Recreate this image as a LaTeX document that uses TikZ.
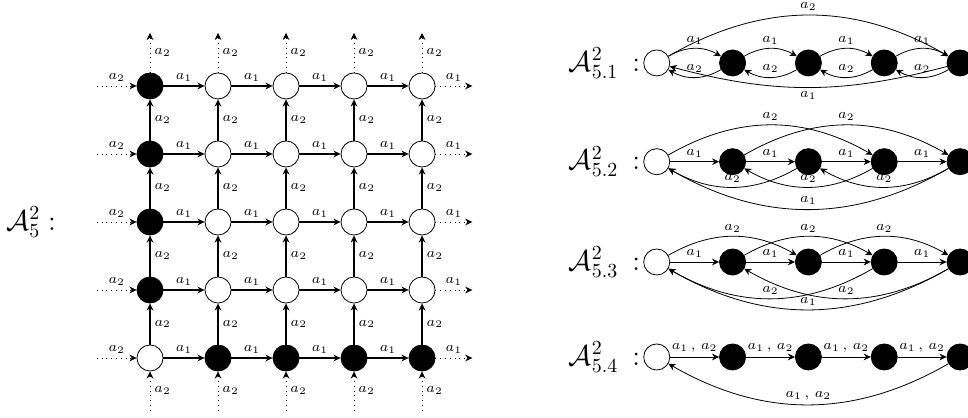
\documentclass[tikz,border=0pt]{standalone}
\usetikzlibrary{arrows.meta}
\usetikzlibrary{positioning}

\tikzset{
    wht/.style={circle,draw,minimum size=0.46cm,inner sep=0pt},
    blk/.style={wht,fill=black},
    lbl/.style={font=\scriptsize,inner sep=2pt},
}

\begin{document}
\begin{tikzpicture}[>={Stealth[length=3.6pt,width=3.4pt,inset=1.2pt]}]

    \useasboundingbox (0,0) rectangle (17.08,7.358);

    % the grid automaton
    \node (gname) at (0.55,3.44) {\Large $\mathcal{A}_5^2 :$};

    \begin{scope}[shift={(2.647,1.041)}]
    \foreach \i in {0,...,4}
        \foreach \j in {0,...,4} {
            \pgfmathtruncatemacro{\k}{(\i==0)+(\j==0)}
            \ifnum\k=1
                \node[blk] (g\i\j) at (1.2*\i,1.2*\j) {};
            \else
                \node[wht] (g\i\j) at (1.2*\i,1.2*\j) {};
            \fi
        }
    \end{scope}

    % a1 goes right, a2 goes up
    \foreach \i [evaluate=\i as \n using int(\i+1)] in {0,...,3}
        \foreach \j in {0,...,4} {
            \draw[->,semithick] (g\i\j) -- node[above,lbl] {$a_1$} (g\n\j);
            \draw[->,semithick] (g\j\i) -- node[right,lbl] {$a_2$} (g\j\n);
        }

    % dotted ends of the grid
    \foreach \j in {0,...,4} {
        \coordinate (l\j) at ([xshift=-0.7cm]g0\j.west);
        \coordinate (r\j) at ([xshift=0.65cm]g4\j.east);
        \coordinate (t\j) at ([yshift=0.7cm]g\j4.north);
        \coordinate (b\j) at ([yshift=-0.69cm]g\j0.south);
        \draw[->,dotted] (l\j) -- node[above,lbl] {$a_2$} (g0\j);
        \draw[->,dotted] (g4\j) -- node[above,lbl] {$a_1$} (r\j);
        \draw[->,dotted] (g\j4) -- node[right,lbl] {$a_2$} (t\j);
        \draw[->,dotted] (b\j) -- node[right,lbl] {$a_2$} (g\j0);
    }

    % the four quotients
    \foreach \r/\y in {1/6.247,2/4.505,3/2.735,4/1.059} {
        \node[wht] (q\r0) at (11.588,\y) {};
        \foreach \i in {1,...,4}
            \node[blk] (q\r\i) at (11.588+1.338*\i,\y) {};
        \node[left=0.05cm of q\r0,inner sep=0pt] (name\r) {\Large $\mathcal{A}^2_{5.\r}$\hspace{7pt}$:$};
    }

    % A_{5.1}
    \foreach \i [evaluate=\i as \n using int(\i+1)] in {0,...,3} {
        \draw[->] (q1\i) to[bend left] node[above,lbl] {$a_1$} (q1\n);
        \draw[->] (q1\n) to[bend left] node[above,lbl] {$a_2$} (q1\i);
    }
    \draw[->] (q10) to[bend left=30] node[above,lbl] {$a_2$} (q14);
    \draw[->] (q14) to[bend left=15] node[below,lbl] {$a_1$} (q10);

    % A_{5.2}
    \foreach \i [evaluate=\i as \n using int(\i+1)] in {0,...,3}
        \draw[->] (q2\i) -- node[above,lbl] {$a_1$} (q2\n);
    \foreach \i/\n in {0/3,1/4,2/0,3/1,4/2}
        \draw[->] (q2\i) to[bend left] node[above,lbl] {$a_2$} (q2\n);
    \draw[->] (q24) to[bend left] node[above,lbl] {$a_1$} (q20);

    % A_{5.3}
    \foreach \i [evaluate=\i as \n using int(\i+1)] in {0,...,3}
        \draw[->] (q3\i) -- node[above,lbl] {$a_1$} (q3\n);
    \foreach \i/\n in {0/2,1/3,2/4,3/0,4/1}
        \draw[->] (q3\i) to[bend left] node[above,lbl] {$a_2$} (q3\n);
    \draw[->] (q34) to[bend left] node[above,lbl] {$a_1$} (q30);

    % A_{5.4}
    \foreach \i [evaluate=\i as \n using int(\i+1)] in {0,...,3}
        \draw[->] (q4\i) -- node[above,lbl] {$a_1\,,\,a_2$} (q4\n);
    \draw[->] (q44) to[bend left] node[above,lbl] {$a_1\,,\,a_2$} (q40);

\end{tikzpicture}
\end{document}
